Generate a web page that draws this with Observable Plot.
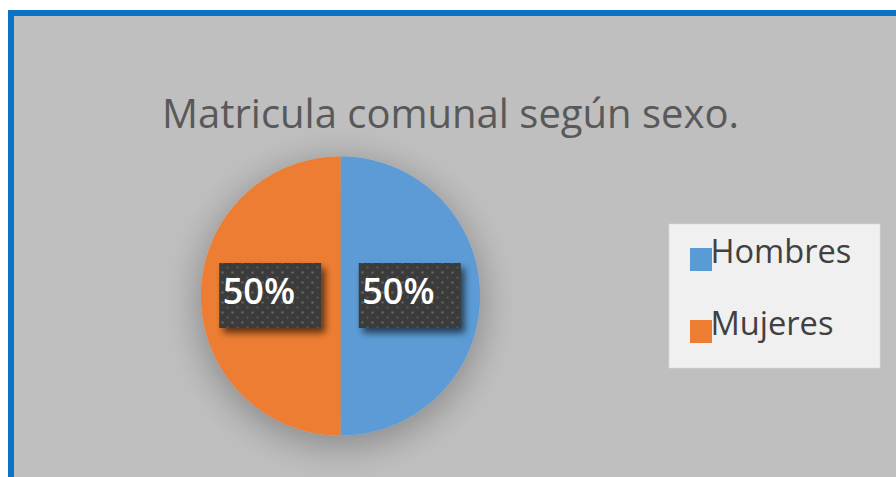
<!DOCTYPE html>
<html>
<head>
<meta charset="utf-8">
<script src="https://cdn.jsdelivr.net/npm/d3@7"></script>
<script src="https://cdn.jsdelivr.net/npm/@observablehq/plot@0.6"></script>
<style>
  html, body { margin: 0; padding: 0; background: #ffffff; width: 896px; height: 477px; overflow: hidden; }
  #frame { position: absolute; left: 8px; top: 10px; right: 0; bottom: 0; background: #bfbfbf;
           border-left: 6px solid #0b72c4; border-top: 6px solid #0b72c4; }
  #chart { position: absolute; left: 0; top: 0; }
</style>
</head>
<body>
<div id="frame"></div>
<div id="chart"></div>
<script>
// ---- data ----
const title = "Matricula comunal según sexo.";
const categories = ["Hombres", "Mujeres"];
const values = [50, 50];
const colors = ["#5B9BD5", "#ED7D31"];

// ---- layout ----
const W = 896, H = 477;
const cx = 340, cy = 295.5, r = 139.5;
const font = "'Open Sans', sans-serif";

const rows = categories.map((name, i) => ({name, value: values[i]}));
const total = d3.sum(values);
const arcs = d3.pie().sort(null).value(d => d.value)(rows);

// slice outlines derived from pie angles
const slicePts = arcs.flatMap(p => {
  const name = p.data.name;
  const pts = [{x: cx, y: cy, name}];
  const n = 180;
  for (let i = 0; i <= n; i++) {
    const a = p.startAngle + (p.endAngle - p.startAngle) * i / n;
    pts.push({x: cx + r * Math.sin(a), y: cy - r * Math.cos(a), name});
  }
  pts.push({x: cx, y: cy, name});
  return pts;
});

// data labels at centroid (r/2)
const bw = 102, bh = 65;
const labels = arcs.map(p => {
  const mid = (p.startAngle + p.endAngle) / 2;
  const lx = cx + (r / 2) * Math.sin(mid);
  const ly = cy - (r / 2) * Math.cos(mid);
  return {name: p.data.name, lx, ly, text: Math.round(p.data.value / total * 100) + "%"};
});

// legend
const legX1 = 669, legX2 = 880, legY1 = 224, legY2 = 368;
const legend = categories.map((name, i) => ({name, cy: 259.5 + i * 72}));

const plot = Plot.plot({
  width: W, height: H,
  margin: 0,
  x: {domain: [0, W], range: [0, W], axis: null},
  y: {domain: [0, H], range: [0, H], axis: null},
  color: {domain: categories, range: colors},
  style: {background: "transparent", fontFamily: font, overflow: "visible"},
  marks: [
    Plot.text([title], {x: () => 450, y: () => 115, text: d => d, fontSize: 40, fill: "#595959", textAnchor: "middle", fontFamily: font}),
    Plot.line(slicePts, {x: "x", y: "y", z: "name", fill: "name", stroke: "none", curve: "linear"}),
    Plot.rect(labels, {x1: d => d.lx - bw / 2, x2: d => d.lx + bw / 2, y1: d => d.ly - bh / 2, y2: d => d.ly + bh / 2, fill: "url(#dots)"}),
    Plot.text(labels, {x: d => d.lx - bw / 2 + 3, y: d => d.ly, dy: -4, text: "text", textAnchor: "start", fill: "white", fontWeight: 600, fontSize: 36, fontFamily: font}),
    Plot.rect([0], {x1: () => legX1, x2: () => legX2, y1: () => legY1, y2: () => legY2, fill: "#f0f0f0", stroke: "#d9d9d9", strokeWidth: 0.6}),
    Plot.rect(legend, {x1: () => 690, x2: () => 712, y1: d => d.cy - 11.5, y2: d => d.cy + 11.5, fill: "name"}),
    Plot.text(legend, {x: () => 710, y: d => d.cy - 7.8, text: "name", textAnchor: "start", fill: "#404040", fontSize: 32.6, fontFamily: font})
  ]
});

const svg = d3.select(plot);
const defs = svg.insert("defs", ":first-child");
const pat = defs.append("pattern").attr("id", "dots").attr("patternUnits", "userSpaceOnUse")
  .attr("width", 10).attr("height", 10);
pat.append("rect").attr("width", 10).attr("height", 10).attr("fill", "#3a3a3a");
pat.append("circle").attr("cx", 2.5).attr("cy", 2.5).attr("r", 1.3).attr("fill", "#626262");
pat.append("circle").attr("cx", 7.5).attr("cy", 7.5).attr("r", 1.2).attr("fill", "#555555");

const f1 = defs.append("filter").attr("id", "pieShadow").attr("x", "-50%").attr("y", "-50%").attr("width", "200%").attr("height", "200%");
f1.append("feGaussianBlur").attr("in", "SourceAlpha").attr("stdDeviation", 20).attr("result", "b");
f1.append("feOffset").attr("in", "b").attr("dx", 0).attr("dy", 8).attr("result", "o");
f1.append("feComponentTransfer").attr("in", "o").attr("result", "s")
  .append("feFuncA").attr("type", "linear").attr("slope", 0.32);
const m1 = f1.append("feMerge");
m1.append("feMergeNode").attr("in", "s");
m1.append("feMergeNode").attr("in", "SourceGraphic");

const f2 = defs.append("filter").attr("id", "boxShadow").attr("x", "-30%").attr("y", "-30%").attr("width", "160%").attr("height", "160%");
f2.append("feGaussianBlur").attr("in", "SourceAlpha").attr("stdDeviation", 3.5).attr("result", "b");
f2.append("feOffset").attr("in", "b").attr("dx", 4).attr("dy", 5).attr("result", "o");
f2.append("feComponentTransfer").attr("in", "o").attr("result", "s")
  .append("feFuncA").attr("type", "linear").attr("slope", 0.6);
const m2 = f2.append("feMerge");
m2.append("feMergeNode").attr("in", "s");
m2.append("feMergeNode").attr("in", "SourceGraphic");

svg.select('g[aria-label="line"]').attr("filter", "url(#pieShadow)");
svg.selectAll('g[aria-label="rect"]').filter((d, i) => i === 0).attr("filter", "url(#boxShadow)");

document.getElementById("chart").appendChild(plot);
</script>
</body>
</html>
